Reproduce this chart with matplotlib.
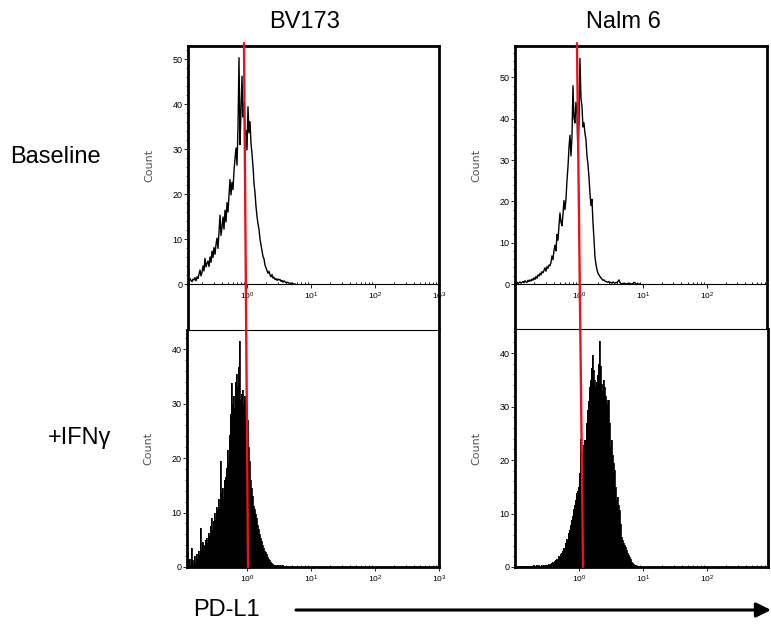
import numpy as np
import matplotlib
matplotlib.use("Agg")
import matplotlib.pyplot as plt
from matplotlib.patches import ConnectionPatch, FancyArrowPatch
from matplotlib.ticker import FixedLocator, MultipleLocator, LogLocator, NullFormatter

# ---------------- data ----------------
cell_lines = ["BV173", "Nalm 6"]
conditions = ["Baseline", "+IFN\u03b3"]
x_axis_label = "PD-L1"
y_axis_label = "Count"
decade_ticks = [1, 10, 100, 1000]
decade_labels = [r"$10^{0}$", r"$10^{1}$", r"$10^{2}$", r"$10^{3}$"]

channels_per_decade = 64  # histogram channel resolution (log10 step = 1/64)

# log10 of the first channel of each histogram
bv173_baseline_start = -0.922
nalm6_baseline_start = -1.0
bv173_ifng_start = -0.9375
nalm6_ifng_start = -1.0

bv173_baseline_counts = [
    1.0, 0.6, 1.2, 0.8, 0.5, 1.1, 0.9, 1.4, 0.7, 1.6, 1.2, 2.2,
    3.1, 1.8, 2.6, 4.0, 2.9, 5.7, 3.8, 4.6, 5.1, 3.9,
    6.0, 4.8, 7.3, 5.9, 8.1, 6.6, 8.8, 10.2, 7.9, 11.5,
    15.3, 10.8, 12.6, 14.9, 12.2, 16.4, 13.8, 18.1, 16.0, 19.7,
    23.2, 19.8, 22.6, 21.0, 25.1, 27.9, 30.2, 26.4, 34.8, 50.3,
    31.0, 38.5, 46.2, 37.1, 40.2, 33.0, 34.1, 29.8, 39.4, 33.6,
    36.1, 31.2, 29.0, 26.1, 22.4, 20.3, 17.2, 15.0, 13.4, 12.1,
    10.0, 8.7, 7.4, 6.1, 5.6, 4.2, 3.6, 3.0, 2.4, 2.8,
    2.0, 1.6, 2.1, 1.3, 1.5, 1.0, 1.2, 0.8, 1.1, 0.9,
    1.0, 0.6, 0.8, 0.4, 0.7, 0.5, 0.3, 0.4, 0.3, 0.2,
    0.2, 0.1, 0.2, 0.0, 0.0, 0.0,
]

nalm6_baseline_counts = [
    0.3, 0.2, 0.4, 0.1, 0.3, 0.5, 0.2, 0.4, 0.6, 0.3, 0.8, 0.5, 0.4, 0.9, 0.6,
    1.0, 0.7, 1.2, 0.9, 1.5, 1.1, 1.8, 1.4, 2.2, 1.9,
    2.6, 2.2, 3.0, 2.7, 3.3, 3.9, 3.1, 4.2, 3.8, 4.6,
    4.4, 5.2, 6.8, 5.9, 8.1, 9.4, 8.0, 12.0, 10.6, 14.1,
    17.2, 15.0, 14.1, 16.8, 20.2, 18.0, 20.5, 25.0, 28.3, 33.0,
    36.0, 31.0, 35.5, 48.0, 40.2, 39.0, 44.0, 41.2, 32.0, 38.5,
    54.6, 45.0, 43.0, 38.0, 39.0, 36.5, 35.0, 31.0, 29.0, 26.0,
    22.0, 19.0, 20.5, 15.0, 11.0, 6.6, 4.8, 3.5, 2.6, 2.2,
    1.8, 1.5, 1.2, 0.9, 1.0, 0.7, 0.6, 0.5, 0.4, 0.6,
    0.3, 0.4, 0.2, 0.5, 0.3, 0.2, 0.4, 0.3, 0.6, 1.0,
    0.4, 0.1, 0.0, 0.2, 0.1, 0.0, 0.1, 0.0, 0.2, 0.1,
    0.1, 0.0, 0.0, 0.1, 0.4, 0.3, 0.0, 0.0, 0.0, 0.0, 0.0,
]

bv173_ifng_counts = [
    2.7, 0.8, 1.5, 0.4, 3.5, 1.2, 0.6, 2.0, 1.0, 2.3,
    1.4, 3.0, 2.2, 7.2, 3.1, 4.5, 4.0, 3.6, 5.0, 5.3,
    4.4, 6.2, 5.6, 7.5, 9.0, 6.8, 8.4, 10.0, 8.6, 11.0,
    10.2, 12.4, 11.1, 19.4, 13.6, 14.5, 12.8, 15.9, 16.6, 18.2,
    21.5, 19.0, 24.3, 28.0, 33.8, 30.0, 31.3, 29.2, 34.0, 35.5,
    33.0, 36.8, 41.4, 30.7, 31.8, 32.5, 30.0, 31.3, 30.4, 29.0,
    27.0, 22.0, 19.5, 16.0, 14.5, 13.0, 11.2, 10.6, 9.8, 9.0,
    7.8, 6.9, 6.0, 5.3, 4.8, 4.1, 3.5, 3.0, 2.7, 2.3,
    1.9, 1.5, 1.2, 1.0, 0.7, 0.5, 0.3, 0.4, 0.3, 0.2,
    0.3, 0.4, 0.2, 0.3, 0.2, 0.3, 0.1, 0.0, 0.0,
]

nalm6_ifng_counts = [
    0.0, 0.1, 0.2, 0.1, 0.2, 0.0, 0.2, 0.1, 0.2, 0.1,
    0.2, 0.0, 0.2, 0.1, 0.2, 0.2, 0.1, 0.2, 0.3, 0.2,
    0.2, 0.3, 0.2, 0.3, 0.2, 0.2, 0.3, 0.2, 0.3, 0.2,
    0.3, 0.4, 0.3, 0.5, 0.4, 0.6, 0.7, 0.9, 0.8, 1.1,
    1.3, 1.5, 1.4, 2.0, 1.8, 2.4, 2.6, 3.0, 3.6, 3.4,
    4.5, 5.2, 4.9, 6.3, 6.9, 7.8, 8.8, 9.5, 10.8, 11.6,
    12.5, 13.8, 14.2, 15.0, 17.5, 24.0, 20.0, 21.5, 22.8, 23.7,
    23.7, 27.0, 29.3, 31.0, 33.7, 35.0, 37.2, 39.6, 36.8, 35.0,
    33.7, 34.5, 35.9, 38.0, 42.3, 37.5, 34.3, 33.0, 35.0, 33.7,
    32.0, 31.2, 30.5, 31.2, 27.0, 22.5, 23.7, 21.0, 19.5, 18.2,
    15.0, 12.5, 13.0, 11.5, 10.7, 8.0, 5.7, 5.0, 4.5, 4.1,
    3.8, 3.2, 2.7, 2.3, 1.8, 1.5, 1.0, 0.8, 0.5, 0.4,
    0.3, 0.2, 0.1, 0.0, 0.0, 0.0,
]

# y-axis upper limits (counts) and x-axis ranges (log10) per panel
ylim_tops = {"tl": 52.9, "tr": 57.6, "bl": 43.5, "br": 44.5}
xlog_ranges = {"tl": (-0.922, 3.0), "tr": (-1.0, 2.94),
               "bl": (-0.9375, 3.0), "br": (-1.0, 2.95)}
# gate marker (log10 at top of baseline panel, at bottom of IFNg panel)
gate_bv173 = (-0.047, 0.016)
gate_nalm6 = (-0.031, 0.0625)

# ---------------- style ----------------
plt.rcParams["font.family"] = ["Liberation Sans", "DejaVu Sans"]
plt.rcParams["mathtext.fontset"] = "custom"
plt.rcParams["mathtext.rm"] = "Liberation Sans"
plt.rcParams["mathtext.it"] = "Liberation Sans"

W, H = 771, 625
fig = plt.figure(figsize=(W / 100, H / 100), dpi=100)


def fx(px):
    return px / W


def fy(py):
    return 1 - py / H


pos = {
    "tl": (188, 46, 439, 284),
    "tr": (515, 46, 767, 284),
    "bl": (187, 330, 439, 567),
    "br": (515, 329, 768, 567),
}
axes = {}
for k, (x0, y0, x1, y1) in pos.items():
    axes[k] = fig.add_axes([fx(x0), fy(y1), fx(x1) - fx(x0), fy(y0) - fy(y1)])

THICK = 2.0
THIN = 0.8


def style_axis(ax, key, top_row):
    lo, hi = xlog_ranges[key]
    ax.set_xscale("log")
    ax.set_xlim(10 ** lo, 10 ** hi)
    ax.set_ylim(0, ylim_tops[key])
    ax.xaxis.set_major_locator(FixedLocator(decade_ticks))
    ax.set_xticklabels(decade_labels)
    ax.xaxis.set_minor_locator(LogLocator(base=10, subs=np.arange(2, 10)))
    ax.xaxis.set_minor_formatter(NullFormatter())
    ax.yaxis.set_major_locator(MultipleLocator(10))
    ax.yaxis.set_minor_locator(MultipleLocator(2))
    ax.tick_params(axis="x", which="major", direction="out", length=3,
                   width=0.6, labelsize=6, pad=2)
    ax.tick_params(axis="x", which="minor", direction="in", length=1.5,
                   width=0.6)
    ax.tick_params(axis="y", which="major", direction="out", length=3,
                   width=0.6, labelsize=6.5, pad=1)
    ax.tick_params(axis="y", which="minor", direction="out", length=1.5,
                   width=0.5)
    ax.set_ylabel(y_axis_label, fontsize=8, color="#555555",
                  family="DejaVu Sans", labelpad=13)
    for s in ["left", "right"]:
        ax.spines[s].set_linewidth(THICK)
    if top_row:
        ax.spines["top"].set_linewidth(THICK)
        ax.spines["bottom"].set_linewidth(THIN)
    else:
        ax.spines["top"].set_linewidth(THIN)
        ax.spines["bottom"].set_linewidth(THICK)


def chan_x(start, n):
    return 10 ** (start + np.arange(n) / channels_per_decade)


# top row: outline histograms
for key, start, counts in [("tl", bv173_baseline_start, bv173_baseline_counts),
                           ("tr", nalm6_baseline_start, nalm6_baseline_counts)]:
    ax = axes[key]
    style_axis(ax, key, True)
    x = chan_x(start, len(counts))
    ax.plot(x, counts, color="black", lw=1.0)

# bottom row: filled histograms
for key, start, counts in [("bl", bv173_ifng_start, bv173_ifng_counts),
                           ("br", nalm6_ifng_start, nalm6_ifng_counts)]:
    ax = axes[key]
    style_axis(ax, key, False)
    x = chan_x(start, len(counts))
    ax.fill_between(x, 0, counts, color="black", lw=0, step="mid")
    ax.plot(x, counts, color="black", lw=0.6, drawstyle="steps-mid")

# frame continuation of top panels down to the lower panels
for top_key, bot_key in [("tl", "bl"), ("tr", "br")]:
    ta = axes[top_key]
    tb = ta.get_position()
    bb = axes[bot_key].get_position()
    ext = (tb.y0 - bb.y1) / tb.height
    for xa in (0, 1):
        ta.plot([xa, xa], [0, -ext], transform=ta.transAxes, clip_on=False,
                color="black", lw=THICK, solid_capstyle="butt", zorder=5)

# gate (red line) spanning both panels of each column
for top_key, bot_key, gate in [("tl", "bl", gate_bv173), ("tr", "br", gate_nalm6)]:
    ta, ba = axes[top_key], axes[bot_key]
    con = ConnectionPatch(xyA=(10 ** gate[0], ylim_tops[top_key] * 1.012),
                          coordsA=ta.transData,
                          xyB=(10 ** gate[1], 0), coordsB=ba.transData,
                          color="#e8121c", lw=1.7, zorder=10)
    fig.add_artist(con)

# titles / labels
TXT = 17
fig.text(fx(305), fy(22), cell_lines[0], ha="center", va="center", fontsize=TXT)
fig.text(fx(623), fy(22), cell_lines[1], ha="center", va="center", fontsize=TXT)
fig.text(fx(10), fy(157), conditions[0], ha="left", va="center", fontsize=TXT)
fig.text(fx(48), fy(438), conditions[1], ha="left", va="center", fontsize=TXT)
fig.text(fx(193), fy(610), x_axis_label, ha="left", va="center", fontsize=TXT)
arrow = FancyArrowPatch((fx(296), fy(610)), (fx(771), fy(610)),
                        transform=fig.transFigure, arrowstyle="-|>",
                        mutation_scale=22, lw=2.2, color="black",
                        shrinkA=0, shrinkB=0)
fig.add_artist(arrow)

fig.savefig("out.png", dpi=100)
